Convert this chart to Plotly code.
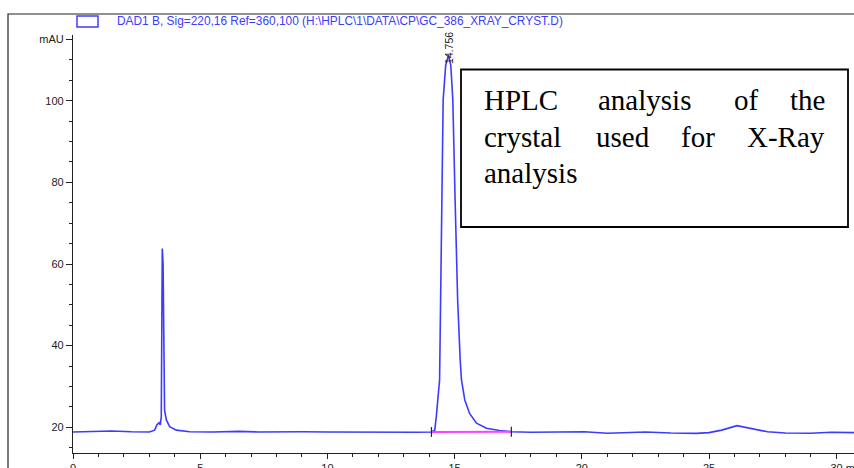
import plotly.graph_objects as go

# ---------------- data ----------------
times = [0.0, 0.8, 1.5, 2.3, 3.0, 3.21, 3.30, 3.38, 3.43, 3.47, 3.49, 3.51, 3.54, 3.58, 3.60,
         3.67, 3.80, 4.06, 4.59, 5.5, 6.5, 7.3, 8.0, 9.0, 10.0, 11.0, 12.0, 13.0, 13.5,
         14.09, 14.22, 14.28, 14.35, 14.41, 14.45, 14.49, 14.55, 14.65, 14.76, 14.85, 14.93,
         15.02, 15.12, 15.22, 15.27, 15.40, 15.59, 15.86, 16.25, 16.77, 17.23, 18.0, 19.0,
         20.1, 21.0, 21.8, 22.5, 23.5, 24.5, 25.0, 25.5, 26.1, 26.8, 27.3, 28.0, 29.0, 29.8, 30.7]
absorb = [18.85, 18.9, 19.1, 18.9, 18.85, 19.3, 20.6, 21.1, 20.6, 22.6, 43.8, 63.8, 60.2, 35.7, 24.2,
          21.8, 20.15, 19.3, 18.9, 18.85, 19.0, 18.85, 18.8, 18.9, 18.85, 18.8, 18.7, 18.8, 18.8,
          18.85, 19.3, 22.6, 27.5, 31.6, 51.2, 75.7, 100.2, 108.7, 111.2, 108.7, 100.2,
          75.7, 51.2, 36.5, 31.6, 26.7, 23.4, 21.0, 19.75, 19.2, 18.9, 18.8, 18.85,
          18.9, 18.55, 18.7, 18.85, 18.6, 18.5, 18.7, 19.3, 20.4, 19.6, 18.9, 18.6, 18.55, 18.8, 18.7]

peak_rt = 14.756
peak_label = "14.756"
baseline_t = [14.09, 17.23]
baseline_v = [18.85, 18.9]

x_ticks = [0, 5, 10, 15, 20, 25, 30]
x_ticktext = ["0", "5", "10", "15", "20", "25", "\u00a0" * 7 + "30 min"]
y_ticks = [20, 40, 60, 80, 100, 115]
y_ticktext = ["20", "40", "60", "80", "100", "mAU"]
x_minor = [1, 2, 3, 4, 6, 7, 8, 9, 11, 12, 13, 14, 16, 17, 18, 19, 21, 22, 23, 24, 26, 27, 28, 29]
y_minor = [15, 25, 30, 35, 45, 50, 55, 65, 70, 75, 85, 90, 95, 105, 110]

legend_text = "DAD1 B, Sig=220,16 Ref=360,100 (H:\\HPLC\\1\\DATA\\CP\\GC_386_XRAY_CRYST.D)"
box_lines = [["HPLC", "analysis", "of", "the"],
             ["crystal", "used", "for", "X-Ray"],
             ["analysis"]]

# ---------------- layout geometry ----------------
L, T, R, B = 73, 35, 0, 15
W, H = 854, 468
PW, PH = W - L - R, H - T - B


def px(x):
    return (x - L) / PW


def py(y):
    return (H - B - y) / PH


BLUE = "#3c3cff"
INK = "#222222"
SANS = "Liberation Sans, Arial"

fig = go.Figure()
fig.add_trace(go.Scatter(x=times, y=absorb, mode="lines",
                         line=dict(color=BLUE, width=1.6), hoverinfo="skip"))
fig.add_trace(go.Scatter(x=baseline_t, y=baseline_v, mode="lines",
                         line=dict(color="#ff40ff", width=2), hoverinfo="skip"))
fig.add_trace(go.Scatter(x=baseline_t, y=baseline_v, mode="markers",
                         marker=dict(symbol="line-ns", size=7,
                                     line=dict(color=INK, width=1.2)),
                         hoverinfo="skip"))

shapes = [
    # outer frame
    dict(type="rect", xref="paper", yref="paper", x0=px(8), x1=1.2, y0=-0.3, y1=py(14),
         line=dict(color=INK, width=1.2), layer="below"),
    # legend swatch
    dict(type="rect", xref="paper", yref="paper", x0=px(77), x1=px(98), y0=py(27), y1=py(16),
         line=dict(color=BLUE, width=1.5)),
    # text box
    dict(type="rect", xref="paper", yref="paper", x0=px(461), x1=px(848), y0=py(227), y1=py(69.5),
         line=dict(color="black", width=1.8), fillcolor="white"),
]

annotations = [
    dict(xref="paper", yref="paper", x=px(115), y=py(21), text=legend_text, showarrow=False,
         xanchor="left", yanchor="middle",
         font=dict(family=SANS, size=11.9, color=BLUE)),
    dict(x=peak_rt, y=113.0, text=peak_label, textangle=-90, showarrow=False,
         xanchor="center", yanchor="middle",
         font=dict(family=SANS, size=10.5, color=INK)),
]

word_left = [[481.7, 595.7, 731.7, None], [481.7, 594.0, 679.3, None], [481.7]]
line_center = [100, 136.5, 172.5]
for li, words in enumerate(box_lines):
    for wi, wtxt in enumerate(words):
        lx = word_left[li][wi]
        if lx is None:
            xa, xp = "right", px(826.7)
        else:
            xa, xp = "left", px(lx)
        annotations.append(dict(xref="paper", yref="paper", x=xp, y=py(line_center[li]),
                                text=wtxt, showarrow=False, xanchor=xa, yanchor="middle",
                                font=dict(family="Liberation Serif, Times New Roman", size=29,
                                          color="black")))

fig.update_layout(
    width=W, height=H,
    margin=dict(l=L, r=R, t=T, b=B, pad=0, autoexpand=False),
    paper_bgcolor="white", plot_bgcolor="white",
    showlegend=False,
    shapes=shapes, annotations=annotations,
    xaxis=dict(range=[0, PW / 25.44], tickvals=x_ticks, ticktext=x_ticktext,
               showgrid=False, zeroline=False, showline=True, linecolor=INK, linewidth=1.2,
               ticks="outside", ticklen=5, tickwidth=1.2, tickcolor=INK,
               tickfont=dict(family=SANS, size=11, color=INK),
               ticklabeloverflow="allow",
               minor=dict(tickvals=x_minor, ticks="outside", ticklen=3, tickwidth=1,
                          tickcolor=INK),
               automargin=False, fixedrange=True),
    yaxis=dict(range=[13.7, 116.1], tickvals=y_ticks, ticktext=y_ticktext,
               showgrid=False, zeroline=False, showline=True, linecolor=INK, linewidth=1.2,
               ticks="outside", ticklen=6, tickwidth=1.2, tickcolor=INK,
               tickfont=dict(family=SANS, size=11, color=INK),
               ticklabeloverflow="allow",
               minor=dict(tickvals=y_minor, ticks="outside", ticklen=3, tickwidth=1,
                          tickcolor=INK),
               automargin=False, fixedrange=True),
)

fig.write_html("out.html", config={"displayModeBar": False})
